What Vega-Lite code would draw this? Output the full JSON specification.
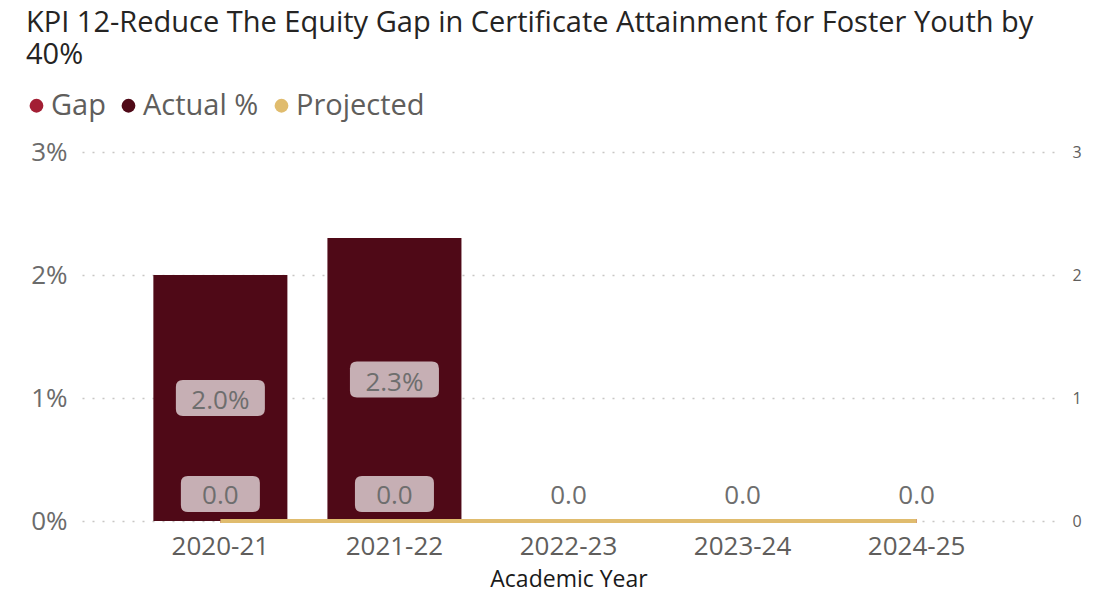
{
  "$schema": "https://vega.github.io/schema/vega-lite/v6.json",
  "width": 973,
  "height": 369,
  "autosize": {"type": "none"},
  "padding": {"left": 82, "top": 152, "right": 41, "bottom": 76},
  "background": "white",
  "config": {"font": "Open Sans", "view": {"stroke": null}},
  "title": {
    "text": ["KPI 12-Reduce The Equity Gap in Certificate Attainment for Foster Youth by", "40%"],
    "anchor": "start",
    "frame": "group",
    "dx": -56,
    "offset": 21,
    "font": "Open Sans",
    "fontSize": 29,
    "fontWeight": "normal",
    "color": "#252423",
    "lineHeight": 32
  },
  "data": {
    "values": [
      {"year": "2020-21", "actual": 0.020, "gap": 0, "projected": 0},
      {"year": "2021-22", "actual": 0.023, "gap": 0, "projected": 0},
      {"year": "2022-23", "actual": null, "gap": 0, "projected": 0},
      {"year": "2023-24", "actual": null, "gap": 0, "projected": 0},
      {"year": "2024-25", "actual": null, "gap": 0, "projected": 0}
    ]
  },
  "encoding": {
    "x": {
      "field": "year",
      "type": "ordinal",
      "scale": {"paddingInner": 0.23, "paddingOuter": 0.41},
      "axis": {
        "title": "Academic Year",
        "labelAngle": 0,
        "labelFontSize": 26,
        "labelColor": "#605E5C",
        "labelPadding": 12,
        "domain": false,
        "ticks": false,
        "titleFontSize": 23,
        "titleColor": "#1A1A1A",
        "titleFontWeight": "normal",
        "titlePadding": 9
      }
    }
  },
  "layer": [
    {
      "mark": {"type": "line", "strokeWidth": 4},
      "encoding": {
        "y": {
          "field": "gap",
          "type": "quantitative",
          "scale": {"domain": [0, 3]},
          "axis": {
            "orient": "right",
            "title": null,
            "values": [0, 1, 2, 3],
            "labelFontSize": 16,
            "labelColor": "#605E5C",
            "labelPadding": 17,
            "grid": false,
            "domain": false,
            "ticks": false
          }
        },
        "color": {
          "datum": "Gap",
          "scale": {"domain": ["Gap", "Actual %", "Projected"], "range": ["#A31F34", "#4F0917", "#E0BC6E"]},
          "legend": {
            "orient": "none",
            "legendX": -60,
            "legendY": -61,
            "direction": "horizontal",
            "title": null,
            "symbolType": "circle",
            "symbolSize": 190,
            "labelFontSize": 29,
            "labelFont": "Open Sans",
            "labelColor": "#605E5C",
            "columnPadding": 8,
            "labelOffset": 0,
            "symbolStrokeWidth": 0,
            "encode": {"symbols": {"update": {"fill": {"scale": "color", "field": "value"}, "opacity": {"value": 1}, "strokeWidth": {"value": 0}}}}
          }
        }
      }
    },
    {
      "layer": [
        {
          "mark": {"type": "bar", "color": "#4F0917"},
          "encoding": {
            "y": {
              "field": "actual",
              "type": "quantitative",
              "scale": {"domain": [0, 0.03]},
              "axis": {
                "title": null,
                "values": [0, 0.01, 0.02, 0.03],
                "format": ".0%",
                "labelFontSize": 26,
                "labelColor": "#6B6B6B",
                "labelPadding": 15,
                "grid": true,
                "gridDash": [2, 8],
                "gridColor": "#C8C6C4",
                "gridWidth": 1.5,
                "domain": false,
                "ticks": false
              }
            },
            "color": {"datum": "Actual %"}
          }
        },
        {
          "mark": {"type": "line", "strokeWidth": 4},
          "encoding": {
            "y": {"field": "projected", "type": "quantitative", "axis": {"title": null}},
            "color": {"datum": "Projected"}
          }
        },
        {
          "transform": [{"filter": "datum.actual != null"}, {"calculate": "datum.actual / 2", "as": "actual_mid"}],
          "mark": {
            "type": "point",
            "filled": true,
            "color": "#FFFFFF",
            "opacity": 0.68,
            "strokeWidth": 0,
            "size": 7921,
            "shape": "M-0.843,-0.4045 L0.843,-0.4045 Q1,-0.4045 1,-0.2475 L1,0.2475 Q1,0.4045 0.843,0.4045 L-0.843,0.4045 Q-1,0.4045 -1,0.2475 L-1,-0.2475 Q-1,-0.4045 -0.843,-0.4045 Z"
          },
          "encoding": {
            "y": {"field": "actual_mid", "type": "quantitative", "axis": {"title": null}}
          }
        },
        {
          "transform": [{"filter": "datum.actual != null"}, {"calculate": "datum.actual / 2", "as": "actual_mid"}],
          "mark": {"type": "text", "fontSize": 26, "color": "#6E6E6E", "baseline": "middle", "dy": 3},
          "encoding": {
            "y": {"field": "actual_mid", "type": "quantitative", "axis": {"title": null}},
            "text": {"field": "actual", "format": ".1%"}
          }
        }
      ]
    },
    {
      "layer": [
        {
          "mark": {
            "type": "point",
            "filled": true,
            "color": "#FFFFFF",
            "opacity": 0.68,
            "strokeWidth": 0,
            "size": 6241,
            "yOffset": -27,
            "shape": "M-0.823,-0.456 L0.823,-0.456 Q1,-0.456 1,-0.279 L1,0.279 Q1,0.456 0.823,0.456 L-0.823,0.456 Q-1,0.456 -1,0.279 L-1,-0.279 Q-1,-0.456 -0.823,-0.456 Z"
          },
          "encoding": {
            "y": {"field": "gap", "type": "quantitative", "scale": {"domain": [0, 3]}, "axis": null}
          }
        },
        {
          "mark": {"type": "text", "fontSize": 26, "color": "#6E6E6E", "baseline": "middle", "dy": -25},
          "encoding": {
            "y": {"field": "gap", "type": "quantitative", "scale": {"domain": [0, 3]}, "axis": null},
            "text": {"field": "gap", "format": ".1f"}
          }
        }
      ]
    }
  ],
  "resolve": {"scale": {"y": "independent"}, "axis": {"y": "independent"}}
}
